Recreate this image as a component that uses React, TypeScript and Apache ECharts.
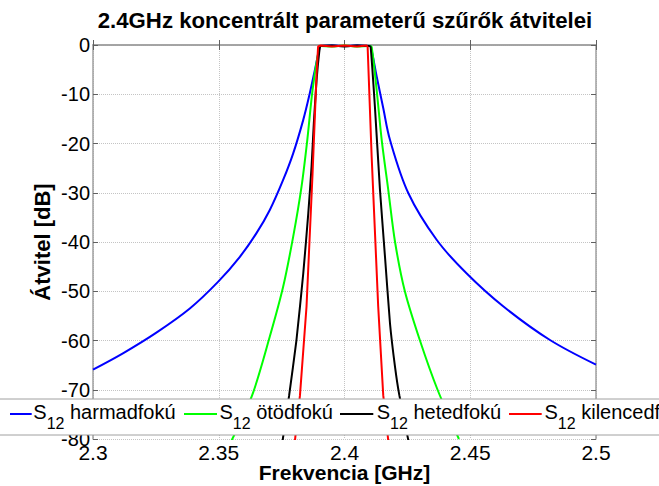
import React, { useEffect, useRef } from "react";
import * as echarts from "echarts";

const FONT = '"Liberation Sans", Arial, sans-serif';

const titleText = "2.4GHz koncentrált parameterű szűrők átvitelei";
const xName = "Frekvencia [GHz]";
const yName = "Átvitel [dB]";
const seriesNames = ["S12 harmadfokú", "S12 ötödfokú", "S12 hetedfokú", "S12 kilencedfokú"];
const legendLabels = ["harmadfokú", "ötödfokú", "hetedfokú", "kilencedfokú"];
const seriesColors = ["#0000ff", "#00ff00", "#000000", "#ff0000"];

const fHarmad = [2.3, 2.3119, 2.3252, 2.3385, 2.3497, 2.3584, 2.365, 2.3703, 2.3756, 2.3796, 2.3836, 2.3862, 2.3882, 2.3899, 2.3905, 2.395, 2.4, 2.405, 2.4098, 2.4104, 2.4128, 2.4154, 2.4181, 2.4254, 2.4367, 2.4486, 2.4632, 2.4817, 2.5];
const dbHarmad = [-65.9, -62.6, -58.4, -53.5, -48.1, -43.0, -38.2, -33.5, -27.4, -22.0, -15.2, -9.8, -5.1, -1.0, -0.2, -0.1, -0.2, -0.1, -0.2, -0.3, -6.4, -12.8, -19.3, -30.1, -39.6, -46.4, -53.1, -59.9, -64.9];

const fOtod = [2.3551, 2.3633, 2.3703, 2.3756, 2.3796, 2.3829, 2.3852, 2.3873, 2.3895, 2.3905, 2.395, 2.4, 2.405, 2.41, 2.4108, 2.4128, 2.4148, 2.4174, 2.4201, 2.424, 2.43, 2.437, 2.4455];
const dbOtod = [-80.3, -71.1, -59.2, -49.1, -38.9, -28.8, -19.3, -9.1, -1.7, -0.2, -0.3, -0.1, -0.3, -0.2, -0.4, -9.2, -19.3, -29.4, -40.0, -50.0, -60.0, -70.0, -80.0];

const fHeted = [2.3754, 2.378, 2.3809, 2.3836, 2.3856, 2.3869, 2.3878, 2.3889, 2.3899, 2.3905, 2.395, 2.4, 2.405, 2.4098, 2.4104, 2.4121, 2.4141, 2.4161, 2.4181, 2.4201, 2.4218, 2.4254];
const dbHeted = [-80.3, -71.1, -59.9, -46.4, -34.2, -24.7, -15.9, -7.1, -1.7, -0.2, -0.1, -0.3, -0.1, -0.2, -0.4, -12.6, -29.4, -43.0, -56.6, -65.4, -71.1, -80.3];

const fKilenc = [2.3803, 2.3823, 2.3849, 2.3873, 2.3889, 2.3895, 2.3905, 2.395, 2.4, 2.405, 2.4088, 2.4092, 2.4108, 2.4134, 2.4154, 2.4174];
const dbKilenc = [-80.3, -71.1, -53.1, -26.1, -5.8, -0.3, -0.1, -0.3, -0.1, -0.3, -0.1, -0.4, -22.7, -53.1, -71.1, -80.3];

const xMin = 2.3;
const xMax = 2.5;
const xStep = 0.05;
const yMin = -80;
const yMax = 0;
const yStep = 10;

const zip = (xs: number[], ys: number[]) => xs.map((x, i) => [x, ys[i]]);

// legend layout (pixels)
const legLine = [
  [10, 31.7],
  [184, 217],
  [340, 373.3],
  [509, 541.7],
];
const legText = [33.3, 219.5, 376.7, 544.5];

export default function App() {
  const ref = useRef<HTMLDivElement>(null);
  useEffect(() => {
    if (!ref.current) return;
    const chart = echarts.init(ref.current, undefined, { renderer: "svg" });
    const allData = [
      zip(fHarmad, dbHarmad),
      zip(fOtod, dbOtod),
      zip(fHeted, dbHeted),
      zip(fKilenc, dbKilenc),
    ];
    const smoothing = [0.35, 0.3, 0.15, 0];
    const axisLine = { show: true, lineStyle: { color: "#a0a0a0", width: 1.5 } };
    const axisTick = { show: true, inside: true, length: 5, lineStyle: { color: "#606060", width: 1 } };
    const splitLine = { show: true, lineStyle: { color: "#c4c4c4", type: "dotted" as const, width: 1 } };

    const legendGraphics: any[] = [
      {
        type: "rect",
        z: 5,
        shape: { x: -2, y: 399, width: 720, height: 36 },
        style: { fill: "#ffffff", stroke: "#a0a0a0", lineWidth: 1 },
      },
    ];
    legendLabels.forEach((lab, i) => {
      legendGraphics.push({
        type: "line",
        z: 6,
        shape: { x1: legLine[i][0], y1: 414, x2: legLine[i][1], y2: 414 },
        style: { stroke: seriesColors[i], lineWidth: 2 },
      });
      legendGraphics.push({
        type: "text",
        z: 6,
        x: legText[i],
        y: 412,
        style: {
          text: `{s|S}{sub|12}{t| ${lab}}`,
          align: "left",
          verticalAlign: "middle",
          fill: "#000",
          fontFamily: FONT,
          fontSize: 20,
          rich: {
            s: { fontFamily: FONT, fontSize: 20, fill: "#000" },
            sub: { fontFamily: FONT, fontSize: 16, fill: "#000", padding: [23, 0, 0, 0] },
            t: { fontFamily: FONT, fontSize: 20, fill: "#000" },
          },
        },
      });
    });

    chart.setOption({
      animation: false,
      backgroundColor: "#ffffff",
      textStyle: { fontFamily: FONT },
      title: {
        text: titleText,
        left: 345,
        top: 9,
        textAlign: "center",
        padding: 0,
        textStyle: { fontFamily: FONT, fontSize: 22.2, fontWeight: "bold", color: "#000" },
      },
      grid: { left: 93, right: 63, top: 45, bottom: 47, containLabel: false, outerBoundsMode: "none" },
      xAxis: [
        {
          type: "value",
          min: xMin,
          max: xMax,
          interval: xStep,
          name: xName,
          nameLocation: "middle",
          nameGap: 23,
          nameMoveOverlap: false,
          nameTextStyle: { fontFamily: FONT, fontSize: 21, fontWeight: "bold", color: "#000", verticalAlign: "top" },
          axisLine,
          axisTick,
          splitLine,
          axisLabel: { fontFamily: FONT, fontSize: 21, color: "#000", margin: 3, showMinLabel: true, showMaxLabel: true },
        },
        {
          type: "value",
          position: "top",
          min: xMin,
          max: xMax,
          interval: xStep,
          axisLine,
          axisTick,
          splitLine: { show: false },
          axisLabel: { show: false },
        },
      ],
      yAxis: [
        {
          type: "value",
          min: yMin,
          max: yMax,
          interval: yStep,
          name: yName,
          nameLocation: "middle",
          nameGap: 40,
          nameMoveOverlap: false,
          nameTextStyle: { fontFamily: FONT, fontSize: 22, fontWeight: "bold", color: "#000" },
          axisLine,
          axisTick,
          splitLine,
          axisLabel: { fontFamily: FONT, fontSize: 20, color: "#000", margin: 3, showMinLabel: true, showMaxLabel: true },
        },
        {
          type: "value",
          position: "right",
          min: yMin,
          max: yMax,
          interval: yStep,
          axisLine,
          axisTick,
          splitLine: { show: false },
          axisLabel: { show: false },
        },
      ],
      graphic: legendGraphics,
      series: seriesNames.map((name, i) => ({
        name,
        type: "line",
        data: allData[i],
        showSymbol: false,
        symbol: "none",
        smooth: smoothing[i],
        clip: true,
        z: 2,
        lineStyle: { color: seriesColors[i], width: 2 },
        itemStyle: { color: seriesColors[i] },
      })),
    });
    return () => chart.dispose();
  }, []);
  return <div ref={ref} style={{ width: 659, height: 486, position: "absolute", left: 0, top: 0 }} />;
}
